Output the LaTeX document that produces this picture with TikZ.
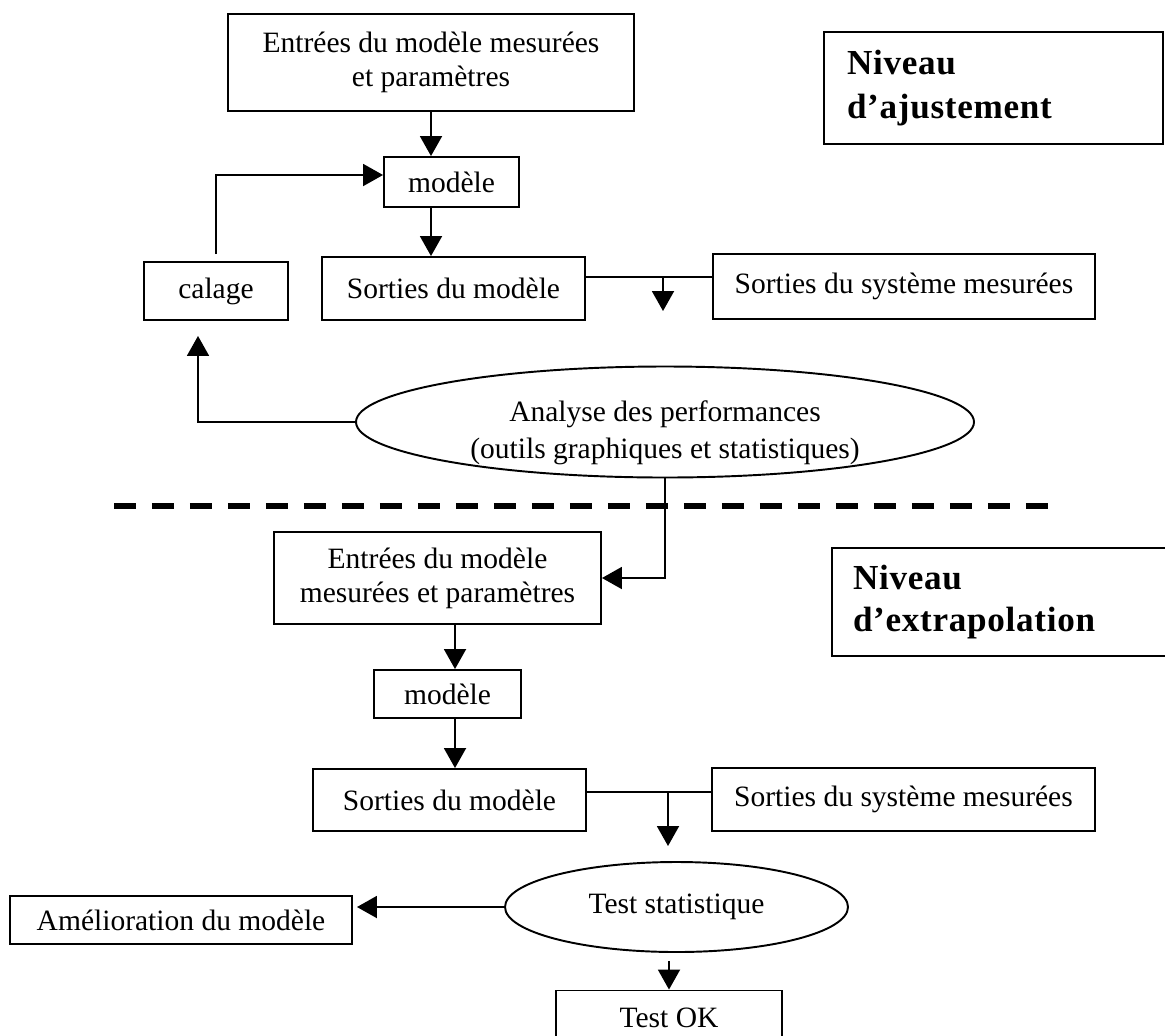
\documentclass[tikz,border=0pt]{standalone}
\usepackage{fontspec}
\setmainfont{Liberation Serif}
\usetikzlibrary{arrows.meta,shapes.geometric}

\tikzstyle{box}=[draw,line width=1.1pt,rectangle,inner sep=0pt,align=center]
\tikzstyle{oval}=[draw,line width=1.1pt,ellipse,inner sep=0pt,align=center]
\tikzstyle{tag}=[draw,line width=1.1pt,rectangle,inner ysep=0pt,align=left]
\tikzstyle{link}=[draw,line width=1.1pt,-]
\tikzstyle{flow}=[draw,line width=1.1pt,-{Triangle[length=0.4cm,width=0.44cm]}]
\tikzstyle{divider}=[draw,line width=3pt,dash pattern=on 0.44cm off 0.32cm]
\newcommand{\pxunit}{0.02cm}
\tikzset{wh/.style 2 args={minimum width=#1*\pxunit,minimum height=#2*\pxunit}}

\begin{document}
\begin{tikzpicture}[x=\pxunit, y=-\pxunit, font=\fontsize{16.8pt}{19.5pt}\selectfont]
    \useasboundingbox (0,0) rectangle (1165,1035);
    \clip (0,0) rectangle (1165,1035);

    % First the fitting level
    \node[box, wh={406}{97}] (entA) at (431,62.5) {Entrées du modèle mesurées\\et paramètres};
    \foreach \pos/\name/\w/\h/\txt in {{(451.5,182)/modA/135/50/modèle},
        {(453.5,288.5)/sortA/263/63/Sorties du modèle}, {(216,291)/cal/144/58/calage},
        {(904,286.5)/sysA/382/65/Sorties du système mesurées}}
        \node[box, wh={\w}{\h}] (\name) at \pos {\txt};
    \node[oval, wh={618}{111}, label={[align=center, yshift=-11*\pxunit,
        font=\fontsize{16.8pt}{21pt}\selectfont]center:{Analyse des performances\\(outils graphiques et statistiques)}}]
        (perf) at (665,422) {};
    \node[tag, wh={339}{112}, inner xsep=23*\pxunit, text width=293*\pxunit,
        font=\fontsize{20pt}{25pt}\selectfont\bfseries] (nivA) at (993.5,88)
        {\addfontfeatures{LetterSpace=2}Niveau\\d’ajustement};
    \coordinate (jA) at (663,277);
    \coordinate (jAend) at (663,311);

    % then the extrapolation level
    \node[box, wh={327}{92}] (entB) at (437.5,578) {Entrées du modèle\\mesurées et paramètres};
    \foreach \pos/\name/\w/\h/\txt in {{(447.5,694)/modB/147/48/modèle},
        {(449.5,800)/sortB/273/62/Sorties du modèle},
        {(903.5,799.5)/sysB/383/63/Sorties du système mesurées},
        {(181,920)/amel/342/48/Amélioration du modèle}, {(669,1018)/testok/226/55/Test OK}}
        \node[box, wh={\w}{\h}] (\name) at \pos {\txt};
    \node[oval, wh={343}{90}] (test) at (676.5,907) {Test statistique};
    \node[tag, wh={343}{108}, inner xsep=21*\pxunit, text width=301*\pxunit,
        font=\fontsize{20pt}{24pt}\selectfont\bfseries] (nivB) at (1003.5,602)
        {\addfontfeatures{LetterSpace=2}Niveau\\d’extrapolation};
    \coordinate (colB) at (455,0);
    \coordinate (jB) at (668,792);
    \coordinate (jBend) at (668,846);

    % separation between the two levels
    \coordinate (sepL) at (114,506);
    \coordinate (sepR) at (1053,506);
    \path[divider] (sepL) -- (sepR);

    % Connect the boxes
    \path[flow] (entA.south) -- (entA.south |- modA.north);
    \path[flow] (entA.south |- modA.south) -- (entA.south |- sortA.north);
    \path[flow, shorten <=7*\pxunit] (cal.north) |- ([yshift=7*\pxunit]modA.west);
    \path[link] (sortA.east |- jA) -- (sysA.west |- jA);
    \path[flow] (jA) -- (jAend);
    \path[flow, shorten >=15*\pxunit] (perf.west) -| ([xshift=-18*\pxunit]cal.south);
    \path[flow] (perf.south) |- (entB.east);

    \path[flow] (entB.south -| colB) -- (modB.north -| colB);
    \path[flow] (modB.south -| colB) -- (sortB.north -| colB);
    \path[link] (sortB.east |- jB) -- (sysB.west |- jB);
    \path[flow] (jB) -- (jBend);
    \path[flow, shorten >=4*\pxunit] (test.west) -- (test.west -| amel.east);
    \path[flow, shorten <=8*\pxunit] (testok.north |- test.south) -- (testok.north);
\end{tikzpicture}
\end{document}
